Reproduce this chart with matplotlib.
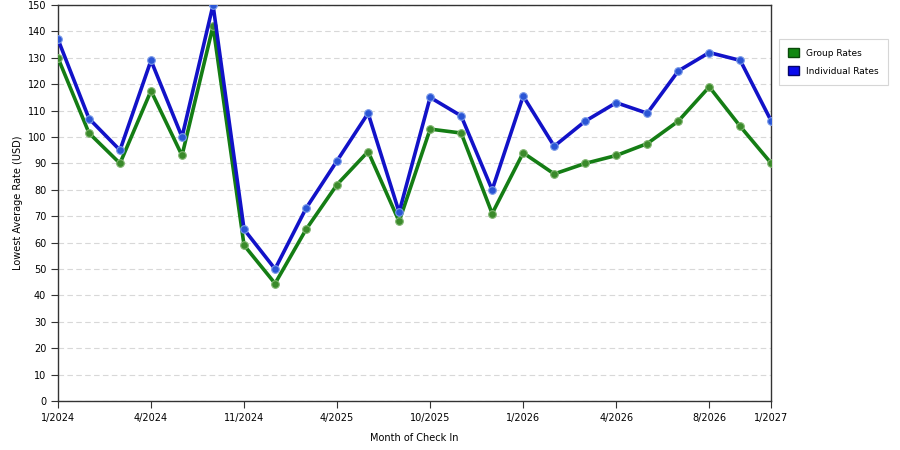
import matplotlib
matplotlib.use("Agg")
import matplotlib.pyplot as plt
from matplotlib.patches import Patch

group_rates = [130, 101.5, 90, 117.5, 93, 142, 59, 44.5, 65, 82, 94.5, 68, 103, 101.5,
               71, 94, 86, 90, 93, 97.5, 106, 119, 104, 90]
individual_rates = [137, 107, 95, 129, 100, 150, 65, 50, 73, 91, 109, 71.5, 115, 108,
                    80, 115.5, 96.5, 106, 113, 109, 125, 132, 129, 106]
tick_index = [0, 3, 6, 9, 12, 15, 18, 21, 23]
tick_labels = ["1/2024", "4/2024", "11/2024", "4/2025", "10/2025", "1/2026",
               "4/2026", "8/2026", "1/2027"]
y_ticks = list(range(0, 151, 10))

plt.rcParams['font.family'] = ['DejaVu Sans']
fig = plt.figure(figsize=(9, 4.5), dpi=100)
ax = fig.add_axes([0.0644, 0.1089, 0.857 - 0.0644, 0.9889 - 0.1089])

x = list(range(len(group_rates)))
green_line = '#147d14'
blue_line = '#1212c8'
ax.plot(x, group_rates, color=green_line, lw=2.6, marker='o', ms=5.5,
        mfc='#3a8a2a', mec='#7fb56f', mew=0.8, zorder=3)
ax.plot(x, individual_rates, color=blue_line, lw=2.6, marker='o', ms=5.5,
        mfc='#2a55d5', mec='#7a9ae8', mew=0.8, zorder=4)

ax.set_xlim(0, len(x) - 1)
ax.set_ylim(0, 150)
ax.set_yticks(y_ticks)
ax.set_xticks(tick_index)
ax.set_xticklabels(tick_labels)
ax.tick_params(axis='both', labelsize=7, color='#333333', length=5, width=0.8, direction='out')
ax.yaxis.grid(True, linestyle=(0, (5, 3)), color='#d8d8d8', lw=0.8)
ax.set_axisbelow(True)
for s in ax.spines.values():
    s.set_color('#333333')
    s.set_linewidth(1.0)

ax.set_ylabel("Lowest Average Rate (USD)", fontsize=7, labelpad=3)
ax.set_xlabel("Month of Check In", fontsize=7, labelpad=7)

handles = [Patch(facecolor='#118811', edgecolor='#0a4a0a', label='Group Rates'),
           Patch(facecolor='#0a0aee', edgecolor='#05056a', label='Individual Rates')]
leg = fig.legend(handles=handles, loc='upper left', bbox_to_anchor=(779 / 900, 1 - 39 / 450),
                 fontsize=6.5, frameon=True, fancybox=False, handlelength=1.2, handleheight=1.2,
                 borderpad=1.0, labelspacing=0.9, handletextpad=0.8, borderaxespad=0)
leg.get_frame().set_edgecolor('#cccccc')
leg.get_frame().set_linewidth(0.8)

fig.savefig("out.png", dpi=100)
